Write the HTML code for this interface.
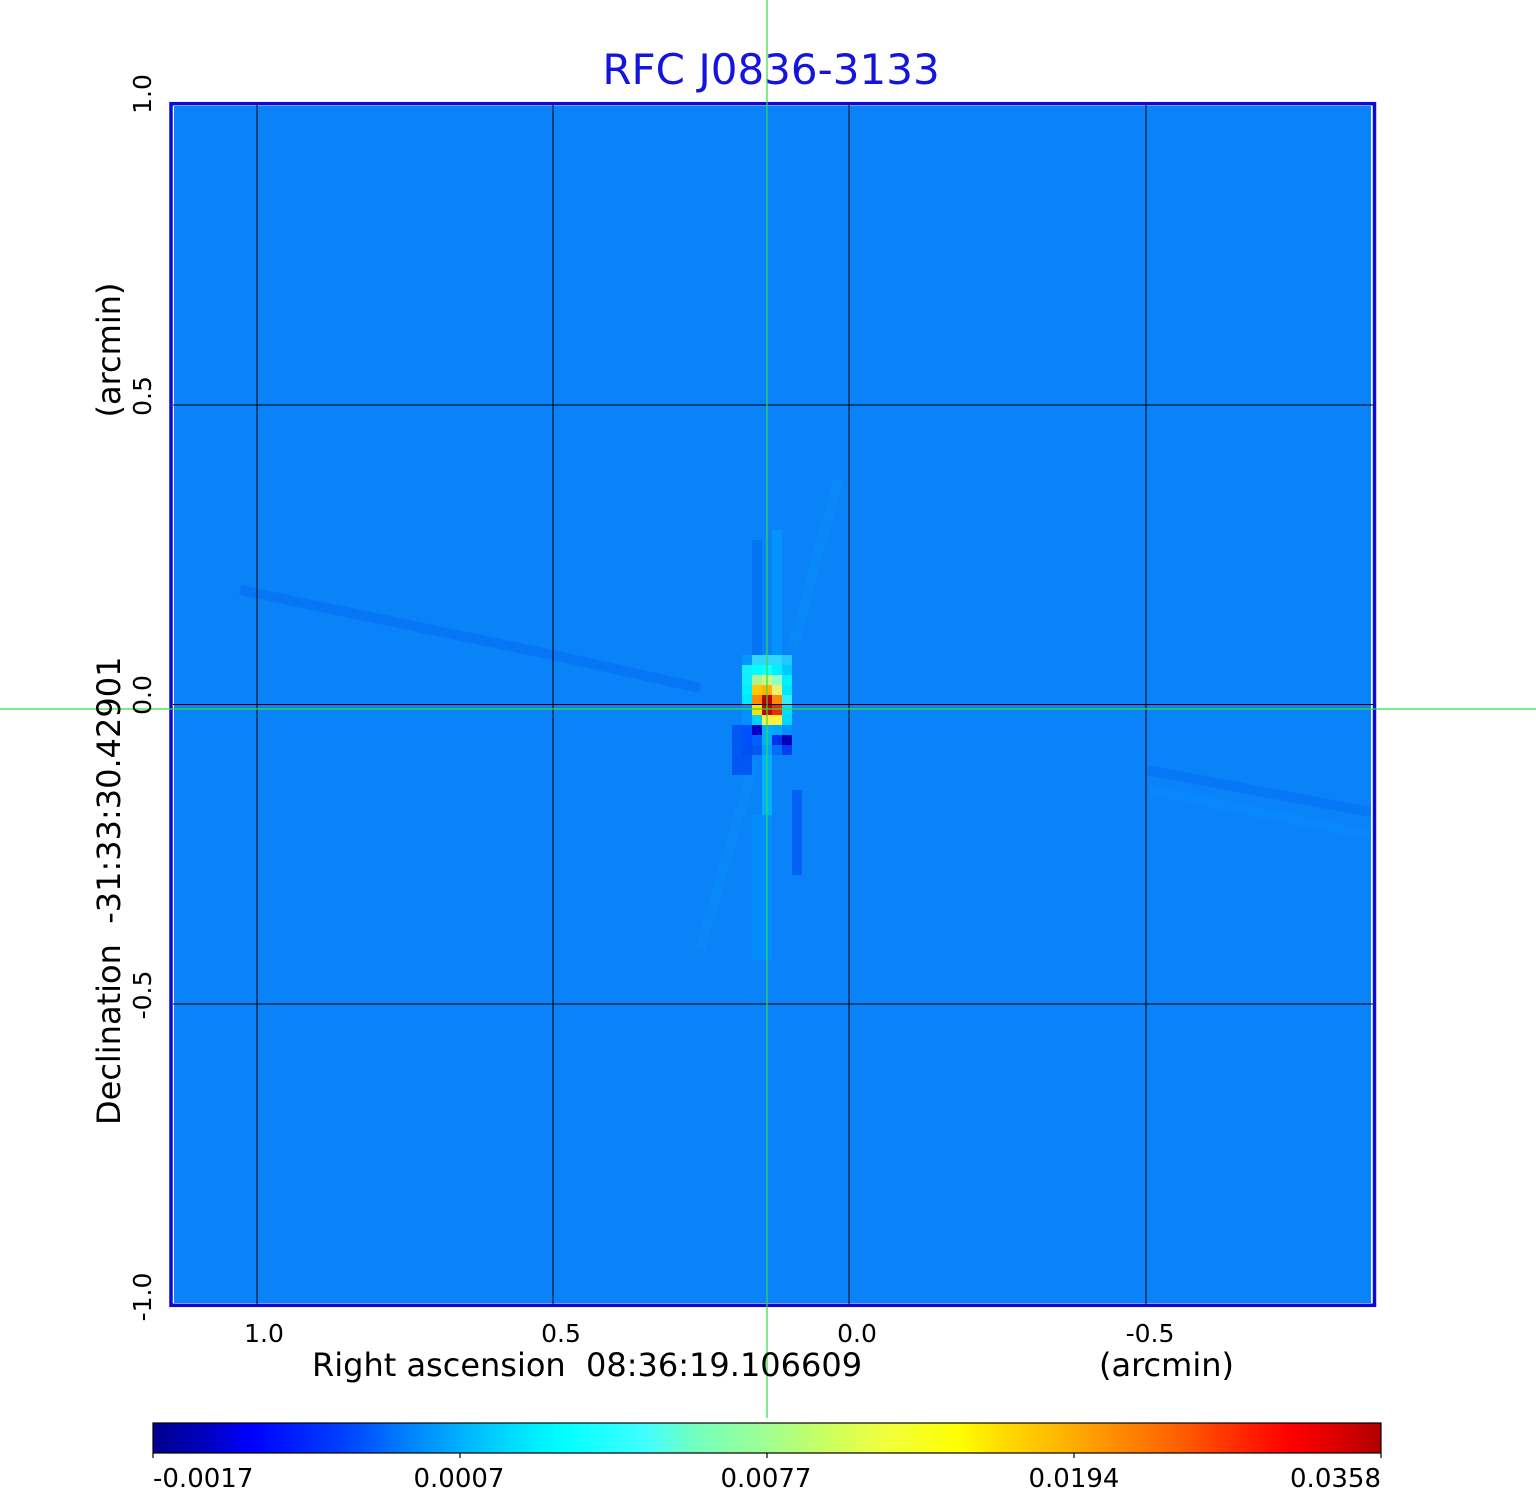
<!DOCTYPE html>
<html>
<head>
<meta charset="utf-8">
<style>
  html, body { margin: 0; padding: 0; background: #ffffff; }
  body { width: 1536px; height: 1511px; overflow: hidden; }
  svg { display: block; }
  text { font-family: "DejaVu Sans", "Liberation Sans", sans-serif; }
</style>
</head>
<body>
<svg width="1536" height="1511" viewBox="0 0 1536 1511" xmlns="http://www.w3.org/2000/svg">
  <defs>
    <linearGradient id="jet" x1="0" y1="0" x2="1" y2="0">
      <stop offset="0" stop-color="#000090"/>
      <stop offset="0.044" stop-color="#0000c0"/>
      <stop offset="0.08" stop-color="#0000ff"/>
      <stop offset="0.155" stop-color="#0040ff"/>
      <stop offset="0.207" stop-color="#0080ff"/>
      <stop offset="0.25" stop-color="#00b0ff"/>
      <stop offset="0.288" stop-color="#00d8ff"/>
      <stop offset="0.315" stop-color="#00f0ff"/>
      <stop offset="0.333" stop-color="#00ffff"/>
      <stop offset="0.40" stop-color="#40ffff"/>
      <stop offset="0.44" stop-color="#70ffc0"/>
      <stop offset="0.5" stop-color="#a0ff90"/>
      <stop offset="0.547" stop-color="#c8ff60"/>
      <stop offset="0.594" stop-color="#f0ff40"/>
      <stop offset="0.656" stop-color="#ffff00"/>
      <stop offset="0.687" stop-color="#ffe000"/>
      <stop offset="0.728" stop-color="#ffc000"/>
      <stop offset="0.77" stop-color="#ff9900"/>
      <stop offset="0.835" stop-color="#ff6000"/>
      <stop offset="0.893" stop-color="#ff2000"/>
      <stop offset="0.926" stop-color="#ff0000"/>
      <stop offset="0.96" stop-color="#e00000"/>
      <stop offset="1" stop-color="#b00000"/>
    </linearGradient>
  </defs>

  <!-- Title -->
  <text x="771" y="84" font-size="42" fill="#1414dc" text-anchor="middle">RFC J0836-3133</text>

  <!-- Map background -->
  <rect x="173" y="105" width="1200" height="1199" fill="#ffffff"/>
  <rect x="174" y="106" width="1197" height="1197" fill="#0a82f8"/>

  <!-- faint streaks -->
  <polyline points="240,590 553,655 700,688" fill="none" stroke="#0064f0" stroke-width="10" opacity="0.4"/>
  <polyline points="1147,770 1370,812" fill="none" stroke="#0064f0" stroke-width="10" opacity="0.35"/>
  <polyline points="1150,790 1370,835" fill="none" stroke="#0a98ff" stroke-width="10" opacity="0.25"/>
  <line x1="838" y1="480" x2="793" y2="647" stroke="#0a98ff" stroke-width="10" opacity="0.3"/>
  <line x1="700" y1="950" x2="755" y2="760" stroke="#0a98ff" stroke-width="10" opacity="0.3"/>

  <!-- source surroundings -->
  <rect x="772" y="530" width="10" height="125" fill="#00a0ff" opacity="0.55"/>
  <rect x="752" y="540" width="10" height="115" fill="#0068f0" opacity="0.55"/>
  <rect x="762" y="755" width="10" height="60" fill="#00b8ff" opacity="0.85"/>
  <rect x="752" y="815" width="20" height="145" fill="#0094ff" opacity="0.6"/>
  <rect x="732" y="725" width="20" height="50" fill="#0050f0" opacity="0.85"/>
  <rect x="792" y="790" width="10" height="85" fill="#0050f0" opacity="0.65"/>

  <!-- source cells -->
  <g shape-rendering="crispEdges">
    <rect x="742" y="655" width="10" height="10" fill="#0098ff"/>
    <rect x="752" y="655" width="10" height="10" fill="#30d8ff"/>
    <rect x="762" y="655" width="10" height="10" fill="#30d8ff"/>
    <rect x="772" y="655" width="10" height="10" fill="#30d8ff"/>
    <rect x="782" y="655" width="10" height="10" fill="#20c8ff"/>

    <rect x="742" y="665" width="10" height="10" fill="#10f0ff"/>
    <rect x="752" y="665" width="10" height="10" fill="#00ffff"/>
    <rect x="762" y="665" width="10" height="10" fill="#10ffff"/>
    <rect x="772" y="665" width="10" height="10" fill="#00f0ff"/>
    <rect x="782" y="665" width="10" height="10" fill="#00c8ff"/>

    <rect x="742" y="675" width="10" height="10" fill="#10f0ff"/>
    <rect x="752" y="675" width="10" height="10" fill="#b0f090"/>
    <rect x="762" y="675" width="10" height="10" fill="#c8f880"/>
    <rect x="772" y="675" width="10" height="10" fill="#90ffc8"/>
    <rect x="782" y="675" width="10" height="10" fill="#00f0ff"/>

    <rect x="742" y="685" width="10" height="10" fill="#00f0ff"/>
    <rect x="752" y="685" width="10" height="10" fill="#ffc800"/>
    <rect x="762" y="685" width="10" height="10" fill="#ffb400"/>
    <rect x="772" y="685" width="10" height="10" fill="#f0f070"/>
    <rect x="782" y="685" width="10" height="10" fill="#00e8ff"/>

    <rect x="742" y="695" width="10" height="10" fill="#00e8ff"/>
    <rect x="752" y="695" width="10" height="10" fill="#ff8c00"/>
    <rect x="762" y="695" width="10" height="10" fill="#c00000"/>
    <rect x="772" y="695" width="10" height="10" fill="#ff8c00"/>
    <rect x="782" y="695" width="10" height="10" fill="#30f0ff"/>

    <rect x="742" y="705" width="10" height="10" fill="#0090ff"/>
    <rect x="752" y="705" width="10" height="10" fill="#ffe000"/>
    <rect x="762" y="705" width="10" height="10" fill="#c80000"/>
    <rect x="772" y="705" width="10" height="10" fill="#e83000"/>
    <rect x="782" y="705" width="10" height="10" fill="#00e0ff"/>

    <rect x="742" y="715" width="10" height="10" fill="#0090ff"/>
    <rect x="752" y="715" width="10" height="10" fill="#00d0ff"/>
    <rect x="762" y="715" width="10" height="10" fill="#fff040"/>
    <rect x="772" y="715" width="10" height="10" fill="#fff040"/>
    <rect x="782" y="715" width="10" height="10" fill="#00d8ff"/>

    <rect x="742" y="725" width="10" height="10" fill="#0050ff"/>
    <rect x="752" y="725" width="10" height="10" fill="#0000c0"/>
    <rect x="762" y="725" width="10" height="10" fill="#00b0ff"/>
    <rect x="772" y="725" width="10" height="10" fill="#00a8ff"/>
    <rect x="782" y="725" width="10" height="10" fill="#0090ff"/>

    <rect x="742" y="735" width="10" height="10" fill="#0050ff"/>
    <rect x="752" y="735" width="10" height="10" fill="#0060ff"/>
    <rect x="762" y="735" width="10" height="10" fill="#00b0ff"/>
    <rect x="772" y="735" width="10" height="10" fill="#0030f0"/>
    <rect x="782" y="735" width="10" height="10" fill="#0000b8"/>

    <rect x="732" y="745" width="10" height="10" fill="#0058f0"/>
    <rect x="742" y="745" width="10" height="10" fill="#0050f0"/>
    <rect x="752" y="745" width="10" height="10" fill="#0058f0"/>
    <rect x="762" y="745" width="10" height="10" fill="#00a0ff"/>
    <rect x="772" y="745" width="10" height="10" fill="#0070f8"/>
    <rect x="782" y="745" width="10" height="10" fill="#0040f0"/>
  </g>

  <!-- grid lines -->
  <g stroke="#000000" stroke-width="1.2" shape-rendering="crispEdges">
    <line x1="257" y1="105" x2="257" y2="1304"/>
    <line x1="553" y1="105" x2="553" y2="1304"/>
    <line x1="849" y1="105" x2="849" y2="1304"/>
    <line x1="1146" y1="105" x2="1146" y2="1304"/>
    <line x1="173" y1="405" x2="1373" y2="405"/>
    <line x1="173" y1="704.5" x2="1373" y2="704.5"/>
    <line x1="173" y1="1004" x2="1373" y2="1004"/>
  </g>

  <!-- frame -->
  <rect x="171" y="103.7" width="1203.5" height="1201.6" fill="none" stroke="#0a0ad8" stroke-width="3.5"/>

  <!-- green crosshair -->
  <line x1="767" y1="0" x2="767" y2="1418" stroke="#33dd44" stroke-width="1.2"/>
  <line x1="0" y1="709" x2="1536" y2="709" stroke="#33dd44" stroke-width="1.2"/>

  <!-- x tick labels -->
  <g font-size="25" fill="#000" text-anchor="middle">
    <text x="264" y="1342">1.0</text>
    <text x="561" y="1342">0.5</text>
    <text x="857" y="1342">0.0</text>
    <text x="1150" y="1342">-0.5</text>
  </g>
  <text x="312" y="1376" font-size="32" fill="#000" xml:space="preserve">Right ascension  08:36:19.106609</text>
  <text x="1099" y="1376" font-size="32" fill="#000">(arcmin)</text>

  <!-- y tick labels -->
  <g font-size="25" fill="#000" text-anchor="middle">
    <text transform="translate(151,94) rotate(-90)">1.0</text>
    <text transform="translate(151,396) rotate(-90)">0.5</text>
    <text transform="translate(151,695) rotate(-90)">0.0</text>
    <text transform="translate(151,995) rotate(-90)">-0.5</text>
    <text transform="translate(151,1297) rotate(-90)">-1.0</text>
  </g>
  <text transform="translate(120,1125) rotate(-90)" font-size="32" fill="#000" xml:space="preserve">Declination  -31:33:30.42901</text>
  <text transform="translate(120,350) rotate(-90)" font-size="32" fill="#000" text-anchor="middle">(arcmin)</text>

  <!-- colorbar -->
  <rect x="153" y="1423" width="1228" height="30" fill="url(#jet)" stroke="#000" stroke-width="1.2"/>
  <g stroke="#000" stroke-width="1.2">
    <line x1="153" y1="1453" x2="153" y2="1458"/>
    <line x1="460" y1="1453" x2="460" y2="1458"/>
    <line x1="767" y1="1453" x2="767" y2="1458"/>
    <line x1="1074" y1="1453" x2="1074" y2="1458"/>
    <line x1="1381" y1="1453" x2="1381" y2="1458"/>
  </g>
  <g font-size="26" fill="#000">
    <text x="153" y="1487" text-anchor="start">-0.0017</text>
    <text x="459" y="1487" text-anchor="middle">0.0007</text>
    <text x="766" y="1487" text-anchor="middle">0.0077</text>
    <text x="1074" y="1487" text-anchor="middle">0.0194</text>
    <text x="1381" y="1487" text-anchor="end">0.0358</text>
  </g>
</svg>
</body>
</html>
